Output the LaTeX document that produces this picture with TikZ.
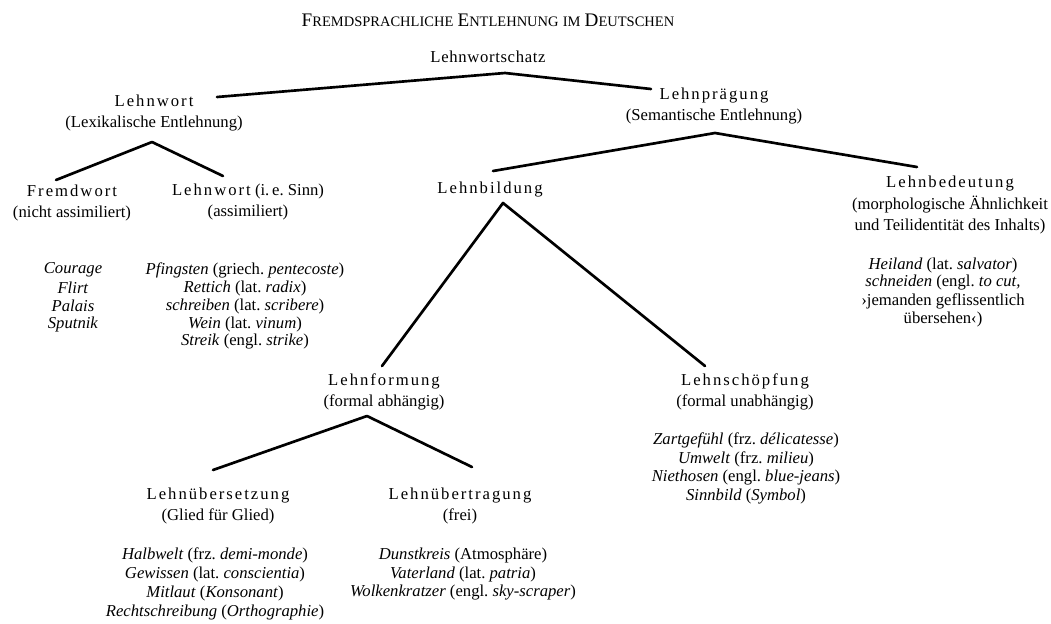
\documentclass[tikz,border=0pt]{standalone}
\usepackage{fontspec}
\setmainfont{Liberation Serif}
\newfontfamily\spacedfont[LetterSpace=12]{Liberation Serif}
\newfontfamily\tightfont[LetterSpace=4]{Liberation Serif}
\newcommand{\kap}[2]{{\fontsize{11.5}{13}\selectfont#1}{\fontsize{8.7}{10}\selectfont#2}}
\begin{document}
\frenchspacing
\begin{tikzpicture}[x=0.6pt, y=-0.6pt, line cap=round, line join=round]

    \tikzset{%
    every term/.style={
        align=center,
        inner sep=0pt,
        font=\fontsize{10}{13}\selectfont
        },
    example/.style={
        inner sep=0pt,
        font=\fontsize{10}{12}\selectfont
        },
    branch/.style={
        line width=1.6pt
        },
    }

    \useasboundingbox (0,0) rectangle (1051,623);

    % Title
    \node (title) at (488,20) {\kap{F}{REMDSPRACHLICHE} \kap{E}{NTLEHNUNG} \kap{}{IM} \kap{D}{EUTSCHEN}};

    % Top of the tree and its two branches
    \node [every term/.try] (schatz) at (488,57) {\tightfont Lehnwortschatz};
    \node [every term/.try] (wort) at (154,113) {{\spacedfont Lehnwort}\\(Lexikalische Entlehnung)};
    \node [every term/.try] (praegung) at (714,106) {{\spacedfont Lehnprägung}\\(Semantische Entlehnung)};

    % Second level
    \node [every term/.try] (fremdwort) at (72,203) {{\spacedfont Fremdwort}\\(nicht assimiliert)};
    \node [every term/.try] (sinnwort) at (248,202) {{\spacedfont Lehnwort} (i.\,e. Sinn)\\(assimiliert)};
    \node [every term/.try] (bildung) at (490,190) {\spacedfont Lehnbildung};
    \node [every term/.try] (bedeutung) at (950,205) {{\spacedfont Lehnbedeutung}\\(morphologische Ähnlichkeit\\und Teilidentität des Inhalts)};

    % Third and fourth level
    \node [every term/.try] (formung) at (384,392) {{\spacedfont Lehnformung}\\(formal abhängig)};
    \node [every term/.try] (schoepfung) at (745,392) {{\spacedfont Lehnschöpfung}\\(formal unabhängig)};
    \node [every term/.try] (uebersetzung) at (218,506) {{\spacedfont Lehnübersetzung}\\(Glied für Glied)};
    \node [every term/.try] (uebertragung) at (460,506) {{\spacedfont Lehnübertragung}\\(frei)};

    % Examples under each term
    \foreach \w [count=\i] in {Courage,Flirt,Palais,Sputnik}
    \node [example] (fremd-\i) at (73,252+18*\i) {\textit{\w}};

    \foreach \w [count=\i] in {{\textit{Pfingsten} (griech. \textit{pentecoste})},
        {\textit{Rettich} (lat. \textit{radix})},
        {\textit{schreiben} (lat. \textit{scribere})},
        {\textit{Wein} (lat. \textit{vinum})},
        {\textit{Streik} (engl. \textit{strike})}}
    \node [example] (sinn-\i) at (245,252+18*\i) {\w};

    \foreach \w [count=\i] in {{\textit{Heiland} (lat. \textit{salvator})},
        {\textit{schneiden} (engl. \textit{to cut,}},
        {›jemanden geflissentlich},
        {übersehen‹)}}
    \node [example] (bedeut-\i) at (943,247+18*\i) {\w};

    \foreach \w [count=\i] in {{\textit{Zartgefühl} (frz. \textit{délicatesse})},
        {\textit{Umwelt} (frz. \textit{milieu})},
        {\textit{Niethosen} (engl. \textit{blue-jeans})},
        {\textit{Sinnbild} (\textit{Symbol})}}
    \node [example] (schoepf-\i) at (746,421+19*\i) {\w};

    \foreach \w [count=\i] in {{\textit{Halbwelt} (frz. \textit{demi-monde})},
        {\textit{Gewissen} (lat. \textit{conscientia})},
        {\textit{Mitlaut} (\textit{Konsonant})},
        {\textit{Rechtschreibung} (\textit{Orthographie})}}
    \node [example] (uebers-\i) at (215,536+19*\i) {\w};

    \foreach \w [count=\i] in {{\textit{Dunstkreis} (Atmosphäre)},
        {\textit{Vaterland} (lat. \textit{patria})},
        {\textit{Wolkenkratzer} (engl. \textit{sky-scraper})}}
    \node [example] (uebertr-\i) at (463,536+19*\i) {\w};

    % Forks of the tree
    \coordinate (schatz-fork) at (505,73);
    \coordinate (wort-end) at (217,97);
    \coordinate (praegung-end) at (651,89);
    \draw [branch] (wort-end) -- (schatz-fork) -- (praegung-end);

    \coordinate (wort-fork) at (152,142);
    \coordinate (fremdwort-end) at (56,180);
    \coordinate (sinnwort-end) at (223,176);
    \draw [branch] (fremdwort-end) -- (wort-fork) -- (sinnwort-end);

    \coordinate (praegung-fork) at (715,133);
    \coordinate (bildung-end) at (493,171);
    \coordinate (bedeutung-end) at (917,167);
    \draw [branch] (bildung-end) -- (praegung-fork) -- (bedeutung-end);

    \coordinate (bildung-fork) at (503,203);
    \coordinate (formung-end) at (382,366);
    \coordinate (schoepfung-end) at (705,366);
    \draw [branch] (formung-end) -- (bildung-fork) -- (schoepfung-end);

    \coordinate (formung-fork) at (367,416);
    \coordinate (uebersetzung-end) at (213,470);
    \coordinate (uebertragung-end) at (472,467);
    \draw [branch] (uebersetzung-end) -- (formung-fork) -- (uebertragung-end);

\end{tikzpicture}
\end{document}
